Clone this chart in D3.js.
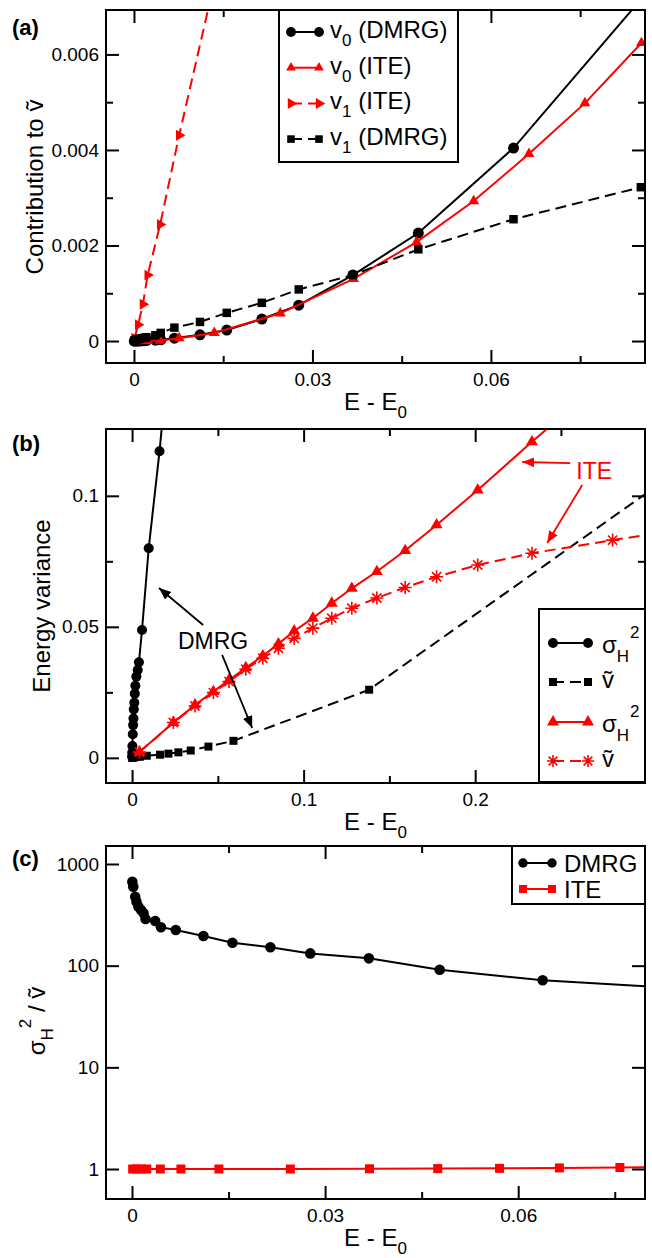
<!DOCTYPE html>
<html>
<head>
<meta charset="utf-8">
<script src="https://cdn.jsdelivr.net/npm/d3@7"></script>
<style>
  body { margin: 0; background: #fff; }
  svg text { font-family: "Liberation Sans", Arial, Helvetica, sans-serif; }
</style>
</head>
<body>
<svg id="fig" width="652" height="1258"></svg>
<script>
// ---------- data: panel (a), contributions to the variance ----------
const dmrgE  = [0.00005, 0.0002, 0.0005, 0.0007, 0.001, 0.0014, 0.0018, 0.0021, 0.0036, 0.0045, 0.0068, 0.0111, 0.0156, 0.0215, 0.0277, 0.0368, 0.0478, 0.0638, 0.0852];
const dmrgV0 = [0, 0, 0.000001, 0.000002, 0.000003, 0.000005, 0.000007, 0.000009, 0.000018, 0.000025, 0.00006, 0.00013, 0.00023, 0.00046, 0.00075, 0.00138, 0.00226, 0.00404, 0.00715];
const dmrgV1 = [0.00001, 0.00002, 0.00003, 0.00004, 0.00005, 0.00006, 0.00007, 0.00008, 0.00012, 0.00017, 0.00028, 0.0004, 0.00059, 0.0008, 0.00108, 0.00138, 0.00192, 0.00255, 0.00322];
const iteE   = [0.0001, 0.0007, 0.0015, 0.0023, 0.0044, 0.0076, 0.0135, 0.0246, 0.0369, 0.0475, 0.0571, 0.0664, 0.0758, 0.0853];
const iteV0  = [0, 0.000001, 0.000002, 0.000004, 0.00001, 0.00006, 0.00017, 0.00058, 0.0013, 0.00207, 0.00293, 0.00392, 0.00498, 0.00624];
const iteV1E = [0.0001, 0.0007, 0.0015, 0.0023, 0.0044, 0.0076, 0.0135];
const iteV1  = [0.00006, 0.00034, 0.00077, 0.00138, 0.00244, 0.00431, 0.0075];

// ---------- data: panel (b), energy variance ----------
const dmrgSigE = [0.0, 0.0001, 0.0002, 0.0004, 0.0006, 0.0008, 0.0010, 0.0013, 0.0016, 0.0019, 0.0025, 0.0033, 0.0040, 0.0058, 0.0097, 0.0160, 0.0230];
const dmrgSig  = [0.0005, 0.0020, 0.0045, 0.0090, 0.0125, 0.0150, 0.0185, 0.0210, 0.0245, 0.0275, 0.0310, 0.0335, 0.0365, 0.0488, 0.0800, 0.1170, 0.1650];
const dmrgVtE  = [0.0, 0.0005, 0.001, 0.002, 0.0045, 0.0086, 0.0163, 0.0212, 0.027, 0.0342, 0.0445, 0.0591, 0.1382, 0.33];
const dmrgVt   = [0.0, 0.0001, 0.0002, 0.0003, 0.0004, 0.0008, 0.0012, 0.0016, 0.0021, 0.0028, 0.0043, 0.0065, 0.0260, 0.1150];
const iteEb    = [0.0043, 0.0241, 0.0367, 0.0474, 0.0565, 0.0663, 0.0762, 0.0853, 0.0945, 0.1054, 0.1164, 0.1281, 0.1427, 0.1592, 0.1775, 0.2015, 0.2331, 0.2801, 0.335];
const iteSig   = [0.0022, 0.0135, 0.0202, 0.0253, 0.0297, 0.0344, 0.0389, 0.0435, 0.0484, 0.0533, 0.0590, 0.0647, 0.0711, 0.0791, 0.0889, 0.1022, 0.1206, 0.1470, 0.1780];
const iteVt    = [0.0022, 0.0135, 0.0198, 0.0249, 0.0291, 0.0338, 0.0380, 0.0418, 0.0456, 0.0495, 0.0533, 0.0571, 0.0610, 0.0650, 0.0691, 0.0736, 0.0781, 0.0831, 0.0885];

// ---------- data: panel (c), ratio sigma_H^2 / v~ ----------
const dmrgRatio = [670, 598, 477, 426, 380, 353, 327, 288, 275, 239, 224, 196, 168, 152, 132, 118, 91, 72, 60];
const iteRatio  = [1.0, 1.0, 1.0, 1.0, 1.0, 1.0, 1.0, 1.0, 1.005, 1.01, 1.015, 1.025, 1.035, 1.045];

// ---------- tick values and labels ----------
const aXMajor = [0, 0.03, 0.06],  aXMinor = [0.015, 0.045, 0.075], aXLabels = ["0", "0.03", "0.06"];
const aYMajor = [0, 0.002, 0.004, 0.006], aYMinor = [0.001, 0.003, 0.005], aYLabels = ["0", "0.002", "0.004", "0.006"];
const bXMajor = [0, 0.1, 0.2], bXMinor = [0.05, 0.15, 0.25], bXLabels = ["0", "0.1", "0.2"];
const bYMajor = [0, 0.05, 0.1], bYMinor = [0.025, 0.075], bYLabels = ["0", "0.05", "0.1"];
const cXMajor = [0, 0.03, 0.06], cXMinor = [0.015, 0.045, 0.075], cXLabels = ["0", "0.03", "0.06"];
const cYMajor = [1, 10, 100, 1000], cYLabels = ["1", "10", "100", "1000"];

const FONT = '"Liberation Sans", Arial, Helvetica, sans-serif';
const RED = "#ff0000";
const VT = "\u1E7D"; // v with tilde

const svg = d3.select("#fig");
svg.append("rect").attr("width", 652).attr("height", 1258).attr("fill", "#fff");
const defs = svg.append("defs");

// arrowheads for the annotations
[["arrBlack", "#000"], ["arrRed", RED]].forEach(([id, c]) => {
  defs.append("marker").attr("id", id).attr("markerUnits", "userSpaceOnUse")
    .attr("markerWidth", 14).attr("markerHeight", 12).attr("refX", 12).attr("refY", 5)
    .attr("orient", "auto")
    .append("path").attr("d", "M0,0 L12,5 L0,10 Z").attr("fill", c);
});

// eight-spoke star symbol
const symbolStar = {
  draw(ctx, size) {
    const r = Math.sqrt(size) / 2, d = r * Math.SQRT1_2;
    ctx.moveTo(-r, 0); ctx.lineTo(r, 0);
    ctx.moveTo(0, -r); ctx.lineTo(0, r);
    ctx.moveTo(-d, -d); ctx.lineTo(d, d);
    ctx.moveTo(-d, d); ctx.lineTo(d, -d);
  }
};

function drawMarker(g, px, py, m) {
  const p = g.append("path")
    .attr("transform", `translate(${px},${py})` + (m.rotate ? ` rotate(${m.rotate})` : ""))
    .attr("d", d3.symbol(m.type, m.size)());
  if (m.stroke) p.attr("fill", "none").attr("stroke", m.color).attr("stroke-width", 1.6);
  else p.attr("fill", m.color);
}

function series(g, x, y, xs, ys, opt) {
  const pts = xs.map((d, i) => [d, ys[i]]);
  g.append("path")
    .attr("d", d3.line().x(d => x(d[0])).y(d => y(d[1]))(pts))
    .attr("fill", "none").attr("stroke", opt.color).attr("stroke-width", 2)
    .attr("stroke-dasharray", opt.dash || null);
  pts.forEach(d => drawMarker(g, x(d[0]), y(d[1]), opt));
}

function styleAxis(sel) {
  sel.select(".domain").remove();
  sel.attr("font-family", FONT).attr("font-size", 19);
  sel.selectAll("line").attr("stroke", "#000").attr("stroke-width", 2);
  sel.selectAll("text").attr("fill", "#000").attr("font-family", FONT).attr("font-size", 19);
}

function frame(g, box, x, y, t) {
  const none = () => "";
  const add = (axis, tr) => g.append("g").attr("transform", tr).call(axis).call(styleAxis);
  add(d3.axisBottom(x).tickValues(t.xMajor).tickSize(-13).tickPadding(9.5).tickFormat((d, i) => t.xLabels[i]), `translate(0,${box.bottom})`);
  add(d3.axisBottom(x).tickValues(t.xMinor).tickSize(-7).tickFormat(none), `translate(0,${box.bottom})`);
  add(d3.axisTop(x).tickValues(t.xMajor).tickSize(-13).tickFormat(none), `translate(0,${box.top})`);
  add(d3.axisTop(x).tickValues(t.xMinor).tickSize(-7).tickFormat(none), `translate(0,${box.top})`);
  add(d3.axisLeft(y).tickValues(t.yMajor).tickSize(-13).tickPadding(7).tickFormat((d, i) => t.yLabels[i]), `translate(${box.left},0)`);
  add(d3.axisRight(y).tickValues(t.yMajor).tickSize(-13).tickFormat(none), `translate(${box.right},0)`);
  if (t.yMinor) {
    add(d3.axisLeft(y).tickValues(t.yMinor).tickSize(-7).tickFormat(none), `translate(${box.left},0)`);
    add(d3.axisRight(y).tickValues(t.yMinor).tickSize(-7).tickFormat(none), `translate(${box.right},0)`);
  }
  g.append("rect").attr("x", box.left).attr("y", box.top)
    .attr("width", box.right - box.left).attr("height", box.bottom - box.top)
    .attr("fill", "none").attr("stroke", "#000").attr("stroke-width", 2);
}

function plotArea(id, box) {
  defs.append("clipPath").attr("id", id).append("rect")
    .attr("x", box.left).attr("y", box.top)
    .attr("width", box.right - box.left).attr("height", box.bottom - box.top);
  return svg.append("g").attr("clip-path", `url(#${id})`);
}

function xLabel(box) {
  const t = svg.append("text").attr("x", (box.left + box.right) / 2).attr("y", box.bottom + 47)
    .attr("text-anchor", "middle").attr("font-size", 24);
  t.append("tspan").text("E - E");
  t.append("tspan").attr("font-size", 17).attr("dy", 8).text("0");
}

function panelTag(txt, yBase) {
  svg.append("text").attr("x", 12).attr("y", yBase).attr("font-size", 22)
    .attr("font-weight", "bold").text(txt);
}

function legendBox(x0, y0, w, h) {
  svg.append("rect").attr("x", x0).attr("y", y0).attr("width", w).attr("height", h)
    .attr("fill", "#fff").attr("stroke", "#000").attr("stroke-width", 2);
}

function legendSample(x1, x2, yc, opt) {
  svg.append("line").attr("x1", x1).attr("x2", x2).attr("y1", yc).attr("y2", yc)
    .attr("stroke", opt.color).attr("stroke-width", 2).attr("stroke-dasharray", opt.dash || null);
  drawMarker(svg, x1, yc, opt);
  drawMarker(svg, x2, yc, opt);
}

// ===================== panel (a) =====================
const boxA = { left: 106, right: 645, top: 10, bottom: 363 };
const xA = d3.scaleLinear().domain([-0.0047, 0.0859]).range([boxA.left, boxA.right]);
const yA = d3.scaleLinear().domain([-0.00046, 0.00693]).range([boxA.bottom, boxA.top]);

const mA = {
  v0d: { color: "#000", type: d3.symbolCircle, size: 95 },
  v0i: { color: RED, type: d3.symbolTriangle, size: 52 },
  v1i: { color: RED, type: d3.symbolTriangle, size: 52, rotate: 90, dash: "11,6" },
  v1d: { color: "#000", type: d3.symbolSquare, size: 72, dash: "11,6" }
};
const gA = plotArea("clipA", boxA);
series(gA, xA, yA, dmrgE, dmrgV0, mA.v0d);
series(gA, xA, yA, iteE, iteV0, mA.v0i);
series(gA, xA, yA, iteV1E, iteV1, mA.v1i);
series(gA, xA, yA, dmrgE, dmrgV1, mA.v1d);
frame(svg, boxA, xA, yA, { xMajor: aXMajor, xMinor: aXMinor, xLabels: aXLabels, yMajor: aYMajor, yMinor: aYMinor, yLabels: aYLabels });

// y label
(() => {
  const t = svg.append("text").attr("transform", "translate(43,187) rotate(-90)")
    .attr("text-anchor", "middle").attr("font-size", 24);
  t.text("Contribution to " + VT);
})();
xLabel(boxA);
panelTag("(a)", 35);

// legend (a)
legendBox(279, 10, 179, 152);
[
  ["0", " (DMRG)", mA.v0d],
  ["0", " (ITE)", mA.v0i],
  ["1", " (ITE)", mA.v1i],
  ["1", " (DMRG)", mA.v1d]
].forEach(([sub, rest, m], i) => {
  const yc = 32 + i * 35.7;
  legendSample(291, 319, yc, m.rotate ? m : Object.assign({}, m, { size: m.size * 0.8 }));
  const t = svg.append("text").attr("x", 330).attr("y", yc + 6).attr("font-size", 24);
  t.append("tspan").text("v");
  t.append("tspan").attr("font-size", 17).attr("dy", 8).text(sub);
  t.append("tspan").attr("dy", -8).text(rest);
});

// ===================== panel (b) =====================
const boxB = { left: 106, right: 645, top: 429, bottom: 783 };
const xB = d3.scaleLinear().domain([-0.0152, 0.299]).range([boxB.left, boxB.right]);
const yB = d3.scaleLinear().domain([-0.0096, 0.1255]).range([boxB.bottom, boxB.top]);

const mB = {
  sd: { color: "#000", type: d3.symbolCircle, size: 79 },
  vd: { color: "#000", type: d3.symbolSquare, size: 64, dash: "11,6" },
  si: { color: RED, type: d3.symbolTriangle, size: 62 },
  vi: { color: RED, type: symbolStar, size: 169, stroke: true, dash: "11,6" }
};
const gB = plotArea("clipB", boxB);
series(gB, xB, yB, dmrgSigE, dmrgSig, mB.sd);
series(gB, xB, yB, dmrgVtE, dmrgVt, mB.vd);
series(gB, xB, yB, iteEb, iteSig, mB.si);
series(gB, xB, yB, iteEb, iteVt, mB.vi);
frame(svg, boxB, xB, yB, { xMajor: bXMajor, xMinor: bXMinor, xLabels: bXLabels, yMajor: bYMajor, yMinor: bYMinor, yLabels: bYLabels });

svg.append("text").attr("transform", "translate(50,606) rotate(-90)")
  .attr("text-anchor", "middle").attr("font-size", 24).text("Energy variance");
xLabel(boxB);
panelTag("(b)", 451);

// annotations (data coordinates)
const notes = [
  { from: [0.0414, 0.0507], to: [0.0157, 0.0648], c: "#000", m: "arrBlack" },
  { from: [0.0525, 0.0393], to: [0.0700, 0.0114], c: "#000", m: "arrBlack" },
  { from: [0.2554, 0.1125], to: [0.2274, 0.1129], c: RED, m: "arrRed" },
  { from: [0.2624, 0.1041], to: [0.2420, 0.0820], c: RED, m: "arrRed" }
];
notes.forEach(n => {
  svg.append("line")
    .attr("x1", xB(n.from[0])).attr("y1", yB(n.from[1]))
    .attr("x2", xB(n.to[0])).attr("y2", yB(n.to[1]))
    .attr("stroke", n.c).attr("stroke-width", 1.8).attr("marker-end", `url(#${n.m})`);
});
svg.append("text").attr("x", xB(0.0472)).attr("y", yB(0.0415)).attr("text-anchor", "middle")
  .attr("font-size", 23).text("DMRG");
svg.append("text").attr("x", xB(0.2694)).attr("y", yB(0.1066)).attr("text-anchor", "middle")
  .attr("font-size", 23).attr("fill", RED).text("ITE");

// legend (b)
legendBox(539, 609, 106, 173);
[
  [643, mB.sd, true, "#000"],
  [682, mB.vd, false, "#000"],
  [722, mB.si, true, RED],
  [761, mB.vi, false, RED]
].forEach(([yc, m, isSigma]) => {
  legendSample(553, 588, yc, m.stroke ? Object.assign({}, m, { size: 150 }) : m);
  if (isSigma) {
    const t = svg.append("text").attr("x", 602).attr("y", yc + 10).attr("font-size", 24);
    t.append("tspan").text("\u03C3");
    t.append("tspan").attr("font-size", 17).attr("dy", 9).text("H");
    t.append("tspan").attr("font-size", 17).attr("dy", -24).attr("dx", 1).text("2");
  } else {
    svg.append("text").attr("x", 602).attr("y", yc + 6).attr("font-size", 24).text(VT);
  }
});

// ===================== panel (c) =====================
const boxC = { left: 106, right: 645, top: 846, bottom: 1199 };
const xC = d3.scaleLinear().domain([-0.00404, 0.0797]).range([boxC.left, boxC.right]);
const yC = d3.scaleLog().domain([0.507, 1503]).range([boxC.bottom, boxC.top]);

const mC = {
  d: { color: "#000", type: d3.symbolCircle, size: 88 },
  i: { color: RED, type: d3.symbolSquare, size: 81 }
};
const gC = plotArea("clipC", boxC);
series(gC, xC, yC, dmrgE, dmrgRatio, mC.d);
series(gC, xC, yC, iteE, iteRatio, mC.i);
frame(svg, boxC, xC, yC, { xMajor: cXMajor, xMinor: cXMinor, xLabels: cXLabels, yMajor: cYMajor, yMinor: null, yLabels: cYLabels });

(() => {
  const t = svg.append("text").attr("transform", "translate(45,1021) rotate(-90)")
    .attr("text-anchor", "middle").attr("font-size", 24);
  t.append("tspan").text("\u03C3");
  t.append("tspan").attr("font-size", 17).attr("dy", 8).text("H");
  t.append("tspan").attr("font-size", 17).attr("dy", -22).text("2");
  t.append("tspan").attr("dy", 14).text(" / " + VT);
})();
xLabel(boxC);
panelTag("(c)", 866);

// legend (c)
legendBox(512, 846, 133, 58);
[[863, mC.d, "DMRG"], [889, mC.i, "ITE"]].forEach(([yc, m, label]) => {
  legendSample(523, 552, yc, Object.assign({}, m, { size: m.size * 0.8 }));
  svg.append("text").attr("x", 564).attr("y", yc + 8.5).attr("font-size", 24).text(label);
});
</script>
</body>
</html>
